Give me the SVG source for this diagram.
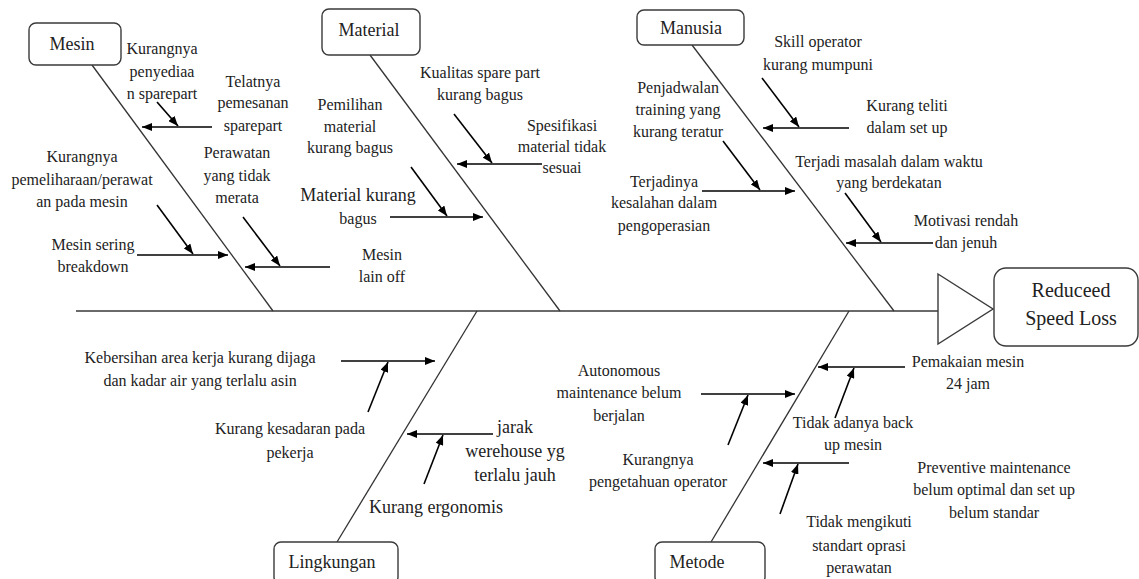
<svg xmlns="http://www.w3.org/2000/svg" width="1139" height="579" viewBox="0 0 1139 579">
<style>
.box{fill:#fff;stroke:#3a3a3a;stroke-width:1.4}
.bl{font-family:"Liberation Serif","Times New Roman",serif;font-size:18px;fill:#222;text-anchor:middle}
.hd{font-family:"Liberation Serif","Times New Roman",serif;font-size:20px;fill:#222;text-anchor:middle}
.t{font-family:"Liberation Serif","Times New Roman",serif;font-size:16px;fill:#222;text-anchor:middle}
.tb{font-family:"Liberation Serif","Times New Roman",serif;font-size:18px;fill:#222;text-anchor:middle}
.spine{stroke:#6a6a6a;stroke-width:2;fill:none}
.bone{stroke:#333;stroke-width:1.3;fill:none}
.ar{stroke:#000;stroke-width:1.6;fill:none;marker-end:url(#ah)}
</style>
<defs>
<marker id="ah" viewBox="0 0 10 8" refX="10" refY="4" markerWidth="10" markerHeight="8" orient="auto" markerUnits="userSpaceOnUse">
<path d="M0,0 L10,4 L0,8 z" fill="#000"/>
</marker>
</defs>
<rect width="1139" height="579" fill="#fff"/>

<g id="connectors">
<line class="spine" x1="76" y1="311" x2="938" y2="311"/>
<line class="bone" x1="92" y1="65" x2="273" y2="311"/>
<line class="bone" x1="370" y1="55" x2="560" y2="311"/>
<line class="bone" x1="692" y1="45" x2="894" y2="311"/>
<line class="bone" x1="477" y1="311" x2="337" y2="542"/>
<line class="bone" x1="849" y1="311" x2="711" y2="542"/>
<!-- Mesin -->
<line class="ar" x1="212" y1="127" x2="142" y2="127"/>
<line class="ar" x1="157" y1="102" x2="178" y2="126"/>
<line class="ar" x1="137" y1="255" x2="228" y2="255"/>
<line class="ar" x1="157" y1="205" x2="193" y2="254"/>
<line class="ar" x1="330" y1="267" x2="245" y2="267"/>
<line class="ar" x1="243" y1="217" x2="280" y2="266"/>
<!-- Material -->
<line class="ar" x1="542" y1="164" x2="457" y2="164"/>
<line class="ar" x1="454" y1="114" x2="492" y2="163"/>
<line class="ar" x1="390" y1="217" x2="483" y2="217"/>
<line class="ar" x1="411" y1="167" x2="447" y2="216"/>
<!-- Manusia -->
<line class="ar" x1="849" y1="128" x2="763" y2="128"/>
<line class="ar" x1="762" y1="78" x2="799" y2="127"/>
<line class="ar" x1="702" y1="191" x2="795" y2="191"/>
<line class="ar" x1="723" y1="141" x2="760" y2="190"/>
<line class="ar" x1="933" y1="243" x2="846" y2="243"/>
<line class="ar" x1="845" y1="193" x2="881" y2="242"/>
<!-- Lingkungan -->
<line class="ar" x1="341" y1="361" x2="435" y2="361"/>
<line class="ar" x1="368" y1="412" x2="388" y2="362"/>
<line class="ar" x1="493" y1="434" x2="407" y2="434"/>
<line class="ar" x1="424" y1="484" x2="443" y2="435"/>
<!-- Metode -->
<line class="ar" x1="701" y1="394" x2="795" y2="394"/>
<line class="ar" x1="728" y1="445" x2="748" y2="395"/>
<line class="ar" x1="905" y1="367" x2="818" y2="367"/>
<line class="ar" x1="835" y1="418" x2="854" y2="368"/>
<line class="ar" x1="849" y1="463" x2="763" y2="463"/>
<line class="ar" x1="780" y1="514" x2="798" y2="464"/>
</g>

<g id="head">
<polygon points="938,274 993,309 938,344" fill="#fff" stroke="#3a3a3a" stroke-width="1.4"/>
<rect class="box" x="994" y="268" width="144" height="78" rx="12"/>
<text class="hd" x="1071" y="297">Reduceed</text>
<text class="hd" x="1071" y="325">Speed Loss</text>
</g>

<g id="mesin">
<rect class="box" x="29" y="23" width="92" height="42" rx="7"/>
<text class="bl" x="72" y="50">Mesin</text>
</g>
<g id="material">
<rect class="box" x="322" y="9" width="98" height="46" rx="7"/>
<text class="bl" x="369" y="36">Material</text>
</g>
<g id="manusia">
<rect class="box" x="637" y="10" width="107" height="35" rx="7"/>
<text class="bl" x="691" y="34">Manusia</text>
</g>
<g id="lingkungan">
<rect class="box" x="274" y="542" width="124" height="42" rx="7"/>
<text class="bl" x="332" y="568">Lingkungan</text>
</g>
<g id="metode">
<rect class="box" x="655" y="542" width="110" height="42" rx="7"/>
<text class="bl" x="697" y="568">Metode</text>
</g>

<g id="causes-mesin">
<text class="t" x="162" y="54">Kurangnya</text>
<text class="t" x="162" y="77">penyediaa</text>
<text class="t" x="162" y="99">n sparepart</text>
<text class="t" x="253" y="87">Telatnya</text>
<text class="t" x="253" y="108">pemesanan</text>
<text class="t" x="253" y="131">sparepart</text>
<text class="t" x="82" y="162">Kurangnya</text>
<text class="t" x="82" y="185">pemeliharaan/perawat</text>
<text class="t" x="82" y="207">an pada mesin</text>
<text class="t" x="237" y="158">Perawatan</text>
<text class="t" x="237" y="181">yang tidak</text>
<text class="t" x="237" y="203">merata</text>
<text class="t" x="93" y="250">Mesin sering</text>
<text class="t" x="93" y="272">breakdown</text>
</g>
<g id="causes-material">
<text class="t" x="480" y="78">Kualitas spare part</text>
<text class="t" x="480" y="100">kurang bagus</text>
<text class="t" x="350" y="110">Pemilihan</text>
<text class="t" x="350" y="132">material</text>
<text class="t" x="350" y="153">kurang bagus</text>
<text class="t" x="562" y="131">Spesifikasi</text>
<text class="t" x="562" y="152">material tidak</text>
<text class="t" x="562" y="173">sesuai</text>
<text class="tb" x="358" y="201">Material kurang</text>
<text class="t" x="358" y="224">bagus</text>
<text class="t" x="382" y="260">Mesin</text>
<text class="t" x="382" y="282">lain off</text>
</g>
<g id="causes-manusia">
<text class="t" x="818" y="47">Skill operator</text>
<text class="t" x="818" y="70">kurang mumpuni</text>
<text class="t" x="907" y="111">Kurang teliti</text>
<text class="t" x="907" y="133">dalam set up</text>
<text class="t" x="678" y="93">Penjadwalan</text>
<text class="t" x="678" y="115">training yang</text>
<text class="t" x="678" y="137">kurang teratur</text>
<text class="t" x="889" y="167">Terjadi masalah dalam waktu</text>
<text class="t" x="889" y="188">yang berdekatan</text>
<text class="t" x="664" y="187">Terjadinya</text>
<text class="t" x="664" y="208">kesalahan dalam</text>
<text class="t" x="664" y="231">pengoperasian</text>
<text class="t" x="966" y="226">Motivasi rendah</text>
<text class="t" x="966" y="248">dan jenuh</text>
</g>
<g id="causes-lingkungan">
<text class="t" x="200" y="363">Kebersihan area kerja kurang dijaga</text>
<text class="t" x="200" y="386">dan kadar air yang terlalu asin</text>
<text class="t" x="290" y="434">Kurang kesadaran pada</text>
<text class="t" x="290" y="458">pekerja</text>
<text class="tb" x="515" y="433">jarak</text>
<text class="tb" x="515" y="457">werehouse yg</text>
<text class="tb" x="515" y="481">terlalu jauh</text>
<text class="tb" x="436" y="513">Kurang ergonomis</text>
</g>
<g id="causes-metode">
<text class="t" x="619" y="376">Autonomous</text>
<text class="t" x="619" y="398">maintenance belum</text>
<text class="t" x="619" y="421">berjalan</text>
<text class="t" x="968" y="367">Pemakaian mesin</text>
<text class="t" x="968" y="389">24 jam</text>
<text class="t" x="853" y="428">Tidak adanya back</text>
<text class="t" x="853" y="450">up mesin</text>
<text class="t" x="658" y="465">Kurangnya</text>
<text class="t" x="658" y="487">pengetahuan operator</text>
<text class="t" x="994" y="473">Preventive maintenance</text>
<text class="t" x="994" y="495">belum optimal dan set up</text>
<text class="t" x="994" y="518">belum standar</text>
<text class="t" x="859" y="527">Tidak mengikuti</text>
<text class="t" x="859" y="551">standart oprasi</text>
<text class="t" x="859" y="573">perawatan</text>
</g>
</svg>
